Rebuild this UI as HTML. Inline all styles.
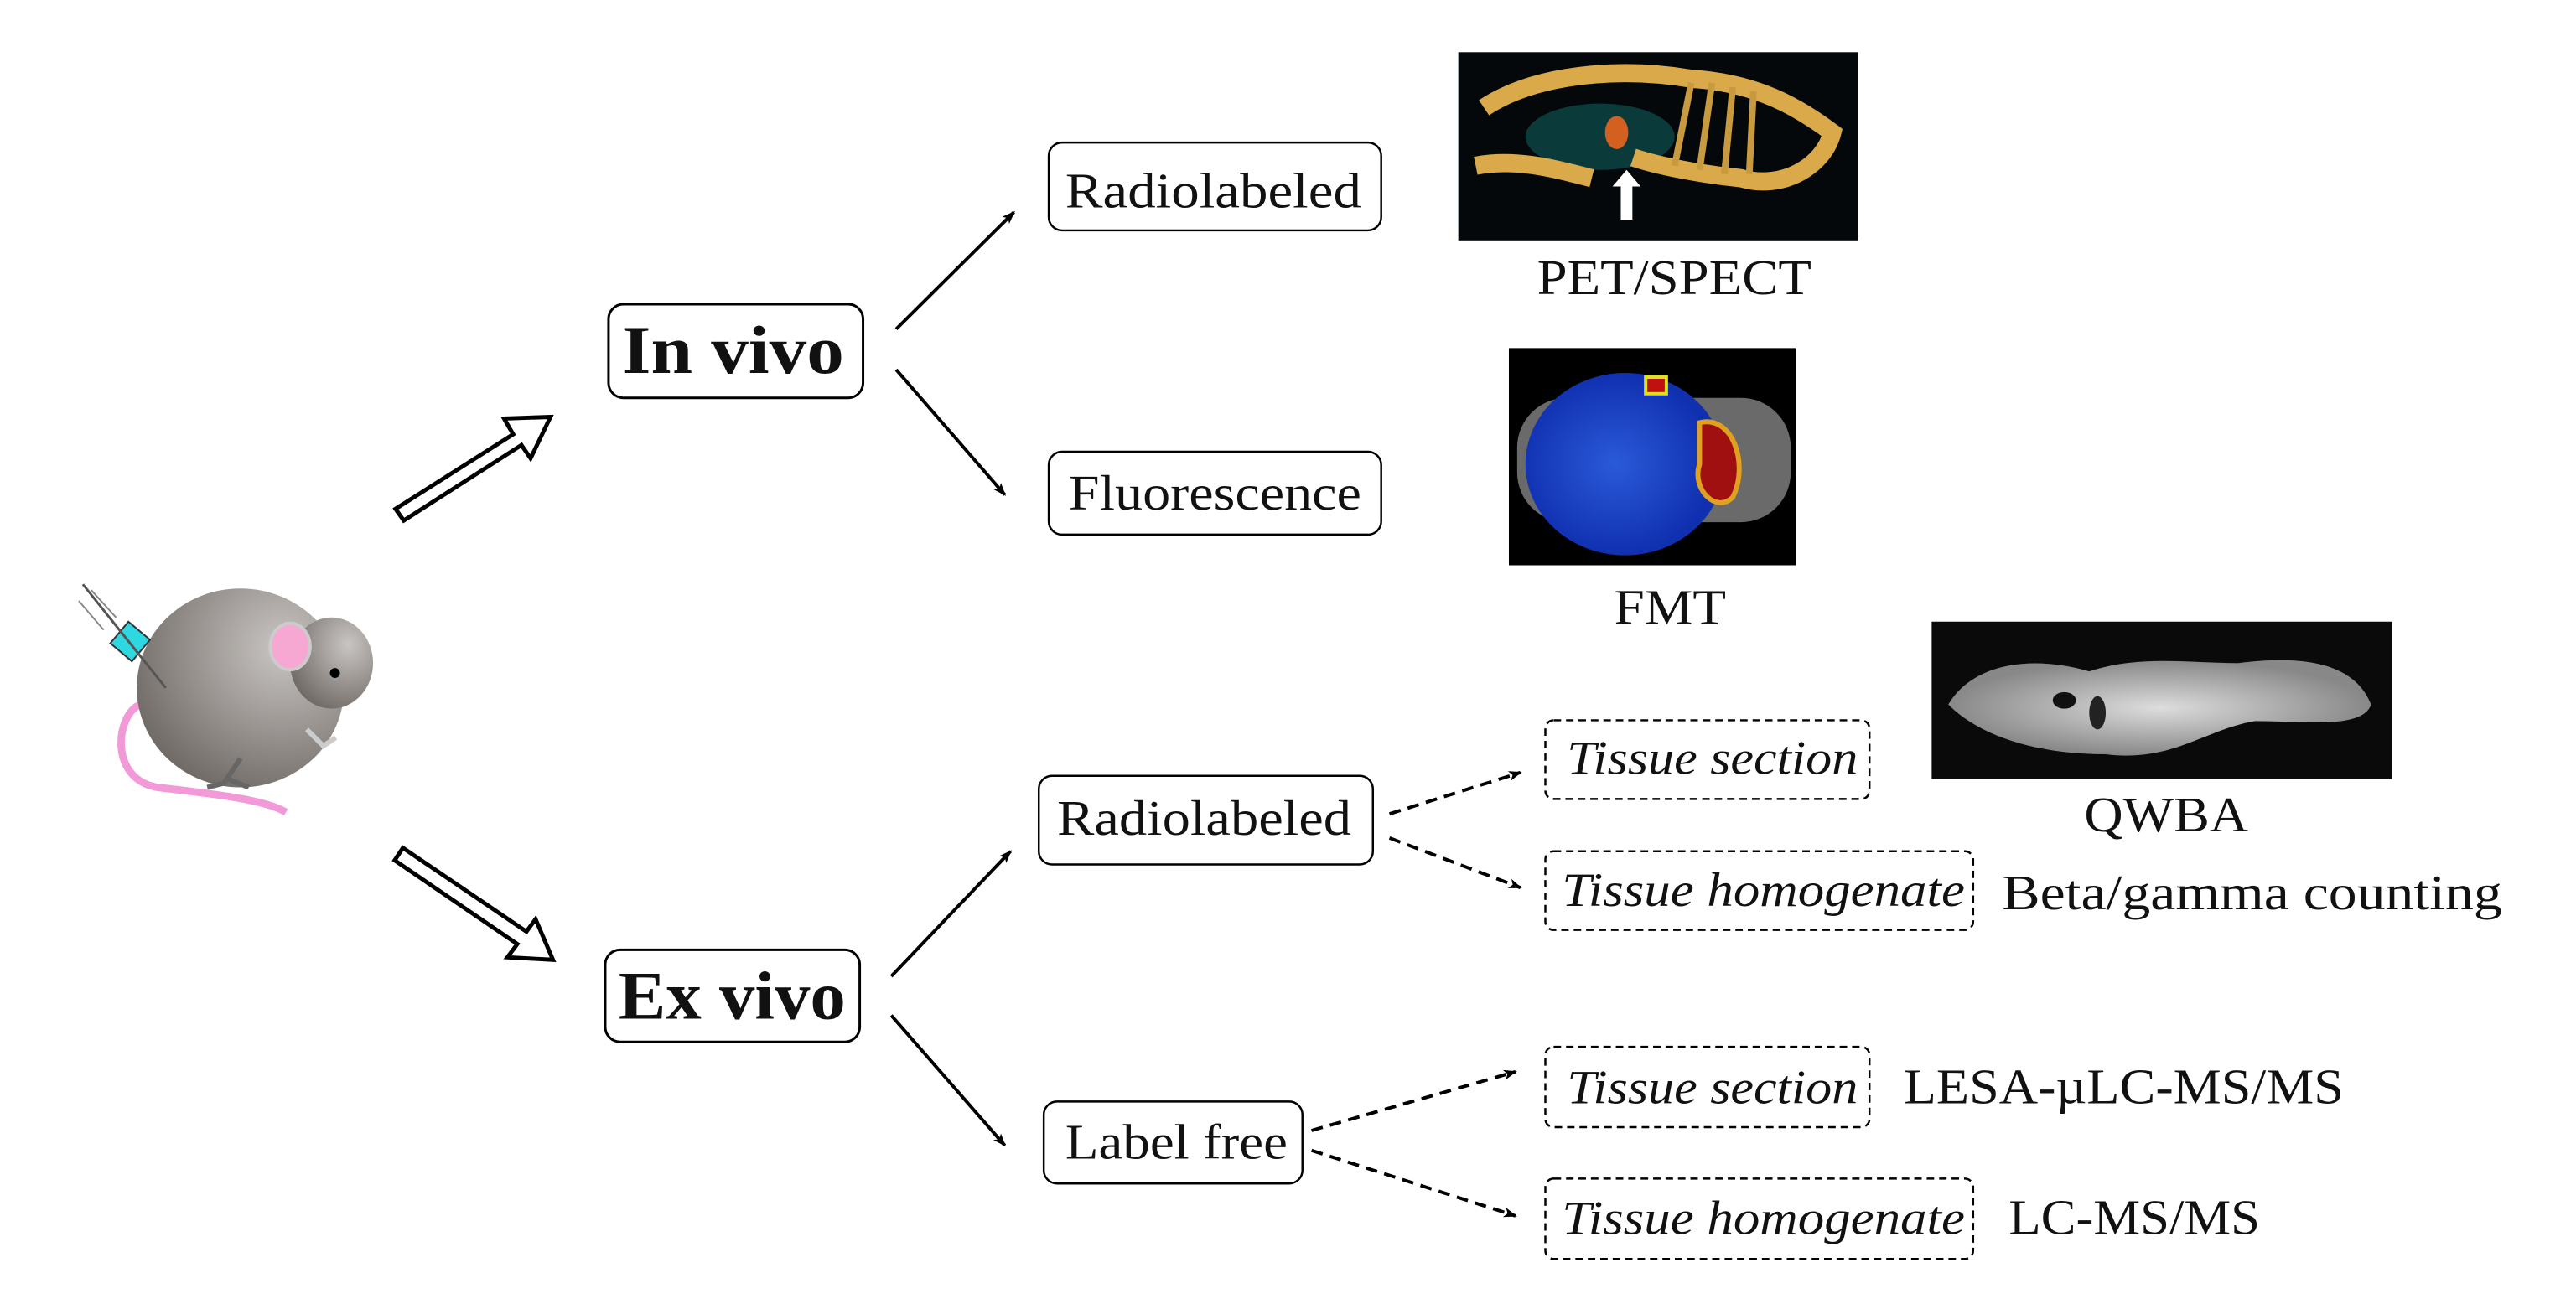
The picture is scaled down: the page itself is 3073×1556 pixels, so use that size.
<!DOCTYPE html>
<html><head><meta charset="utf-8"><style>
html,body{margin:0;padding:0;background:#fff;}
svg{display:block}
text{font-family:"Liberation Serif",serif;fill:#111}
</style></head><body>
<svg width="3073" height="1556" viewBox="0 0 3073 1556" xmlns="http://www.w3.org/2000/svg">
<defs>
<marker id="ah2" markerWidth="16" markerHeight="16" refX="14" refY="8" orient="auto" markerUnits="userSpaceOnUse" viewBox="0 0 16 16">
<path d="M0,2 L16,8 L0,14 L4,8 z" fill="#000"/></marker>
<radialGradient id="body" cx="0.7" cy="0.3" r="0.8"><stop offset="0" stop-color="#c9c5c2"/><stop offset="1" stop-color="#6e6864"/></radialGradient>
<radialGradient id="fmt" cx="0.45" cy="0.5" r="0.5"><stop offset="0" stop-color="#2a5ad8"/><stop offset="1" stop-color="#1030b0"/></radialGradient>
<radialGradient id="qw" cx="0.5" cy="0.5" r="0.5"><stop offset="0" stop-color="#ddd"/><stop offset="1" stop-color="#888"/></radialGradient>
</defs>
<g transform="scale(0.989)">
<path d="M170,850 C140,860 130,940 190,950 C260,958 320,965 345,980" fill="none" stroke="#f29ad8" stroke-width="9"/>
<ellipse cx="290" cy="830" rx="125" ry="120" fill="url(#body)"/>
<ellipse cx="400" cy="800" rx="50" ry="55" fill="url(#body)"/>
<ellipse cx="350" cy="780" rx="24" ry="28" fill="#f7a8d2" stroke="#ccc" stroke-width="4"/>
<circle cx="404" cy="812" r="6" fill="#000"/>
<path d="M290,915 L270,945 L250,950 M275,940 L300,950" stroke="#666" stroke-width="6" fill="none"/>
<path d="M370,880 L390,900 L405,890" stroke="#ccc" stroke-width="6" fill="none"/>
<rect x="140" y="757" width="34" height="34" fill="#2ed8e0" stroke="#333" stroke-width="2" transform="rotate(40 157 774)"/>
<path d="M100,705 L200,830" stroke="#555" stroke-width="3"/>
<path d="M110,712 L140,745 M95,725 L125,760" stroke="#888" stroke-width="2"/>

<g fill="#fff" stroke="#000" stroke-width="5" stroke-linejoin="miter">
<path d="M477,614 L619,524 L608,505 L664,503 L640,553 L629,537 L487,628 Z"/>
<path d="M476,1098 L624,1199 L612,1215 L667,1218 L646,1169 L635,1184 L486,1083 Z" transform="translate(0,-60)"/>
</g>

<g fill="#fff" stroke="#000" stroke-width="3">
<rect x="734" y="367" width="307" height="113" rx="18"/>
<rect x="730" y="1146" width="307" height="111" rx="18"/>
<rect x="1265" y="172" width="401" height="106" rx="16" stroke-width="2.5"/>
<rect x="1265" y="545" width="401" height="100" rx="16" stroke-width="2.5"/>
<rect x="1253" y="936" width="403" height="107" rx="16" stroke-width="2.5"/>
<rect x="1259" y="1329" width="312" height="99" rx="16" stroke-width="2.5"/>
</g>
<g fill="#fff" stroke="#000" stroke-width="2.5" stroke-dasharray="9,6">
<rect x="1864" y="869" width="391" height="95" rx="10"/>
<rect x="1864" y="1027" width="516" height="95" rx="10"/>
<rect x="1864" y="1263" width="391" height="97" rx="10"/>
<rect x="1864" y="1422" width="516" height="97" rx="10"/>
</g>

<g stroke="#000" stroke-width="4" marker-end="url(#ah2)">
<line x1="1081" y1="397" x2="1223" y2="256"/>
<line x1="1081" y1="446" x2="1212" y2="597"/>
<line x1="1075" y1="1178" x2="1219" y2="1027"/>
<line x1="1075" y1="1225" x2="1212" y2="1382"/>
</g>
<g stroke="#000" stroke-width="4" stroke-dasharray="14,9" marker-end="url(#ah2)" fill="none">
<line x1="1676" y1="982" x2="1834" y2="932"/>
<line x1="1676" y1="1011" x2="1834" y2="1071"/>
<line x1="1582" y1="1364" x2="1828" y2="1293"/>
<line x1="1582" y1="1388" x2="1828" y2="1467"/>
</g>

<rect x="1759" y="63" width="482" height="227" fill="#05080a"/>
<ellipse cx="1930" cy="165" rx="90" ry="40" fill="#0a3a3a"/>
<path d="M1790,130 C1850,90 1950,80 2040,95 C2120,100 2170,130 2210,160 C2200,200 2150,230 2100,215 C2050,210 2000,200 1970,190 M1780,200 C1830,190 1880,205 1920,215" stroke="#d9a94a" stroke-width="22" fill="none"/>
<g stroke="#c89a40" stroke-width="8">
<line x1="2040" y1="100" x2="2020" y2="200"/><line x1="2065" y1="100" x2="2050" y2="205"/><line x1="2090" y1="105" x2="2080" y2="210"/><line x1="2115" y1="110" x2="2110" y2="210"/>
</g>
<ellipse cx="1950" cy="160" rx="14" ry="20" fill="#d46020"/>
<path d="M1955,265 L1955,225 L1945,225 L1962,205 L1979,225 L1969,225 L1969,265 Z" fill="#fff"/>

<rect x="1820" y="420" width="346" height="262" fill="#000"/>
<rect x="1830" y="480" width="330" height="150" rx="60" fill="#6a6a6a"/>
<ellipse cx="1960" cy="560" rx="120" ry="110" fill="url(#fmt)"/>
<path d="M2050,510 C2090,500 2110,560 2090,600 C2070,620 2040,590 2050,560 Z" fill="#a01010" stroke="#e0a020" stroke-width="6"/>
<rect x="1985" y="455" width="25" height="20" fill="#c01010" stroke="#e0e020" stroke-width="4"/>

<rect x="2330" y="750" width="555" height="190" fill="#0a0a0a"/>
<path d="M2350,850 C2380,800 2450,790 2520,810 C2580,790 2640,800 2700,800 C2780,790 2840,800 2860,850 C2850,880 2780,870 2720,870 C2660,880 2620,920 2540,910 C2460,910 2390,890 2350,850 Z" fill="url(#qw)"/>
<ellipse cx="2490" cy="845" rx="14" ry="10" fill="#111"/>
<ellipse cx="2530" cy="860" rx="10" ry="20" fill="#222"/>

<text x="750" y="450" font-size="82" font-weight="bold" textLength="268" lengthAdjust="spacingAndGlyphs">In vivo</text>
<text x="746" y="1229" font-size="82" font-weight="bold" textLength="274" lengthAdjust="spacingAndGlyphs">Ex vivo</text>
<g font-size="60">
<text x="1285" y="250" textLength="357" lengthAdjust="spacingAndGlyphs">Radiolabeled</text>
<text x="1289" y="615" textLength="353" lengthAdjust="spacingAndGlyphs">Fluorescence</text>
<text x="1275" y="1007" textLength="355" lengthAdjust="spacingAndGlyphs">Radiolabeled</text>
<text x="1285" y="1398" textLength="268" lengthAdjust="spacingAndGlyphs">Label free</text>
<text x="1854" y="355" textLength="331" lengthAdjust="spacingAndGlyphs">PET/SPECT</text>
<text x="1947" y="753" textLength="135" lengthAdjust="spacingAndGlyphs">FMT</text>
<text x="2514" y="1003" textLength="198" lengthAdjust="spacingAndGlyphs">QWBA</text>
<text x="2415" y="1097" textLength="603" lengthAdjust="spacingAndGlyphs">Beta/gamma counting</text>
<text x="2296" y="1331" textLength="531" lengthAdjust="spacingAndGlyphs">LESA-µLC-MS/MS</text>
<text x="2423" y="1489" textLength="303" lengthAdjust="spacingAndGlyphs">LC-MS/MS</text>
</g>
<g font-size="58" font-style="italic">
<text x="1890" y="934" textLength="351" lengthAdjust="spacingAndGlyphs">Tissue section</text>
<text x="1884" y="1093" textLength="486" lengthAdjust="spacingAndGlyphs">Tissue homogenate</text>
<text x="1890" y="1331" textLength="351" lengthAdjust="spacingAndGlyphs">Tissue section</text>
<text x="1884" y="1489" textLength="486" lengthAdjust="spacingAndGlyphs">Tissue homogenate</text>
</g>
</g>
</svg>
</body></html>
